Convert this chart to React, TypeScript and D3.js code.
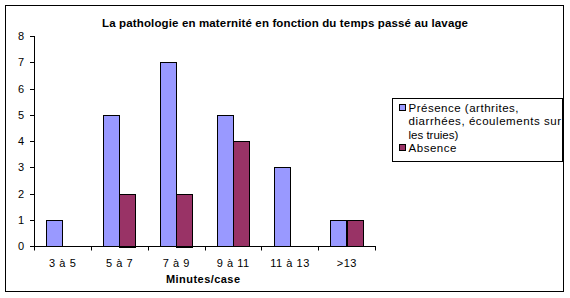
import React from "react";
import * as d3 from "d3";

const categories = ["3 à 5", "5 à 7", "7 à 9", "9 à 11", "11 à 13", ">13"];
const presence = [1, 5, 7, 5, 3, 1];
const absence = [0, 2, 2, 4, 0, 1];
const yTicks = [0, 1, 2, 3, 4, 5, 6, 7, 8];
const seriesNames = ["Présence (arthrites, diarrhées, écoulements sur les truies)", "Absence"];
const legendLines = [["Présence (arthrites,", "diarrhées, écoulements sur", "les truies)"], ["Absence"]];
const colors = ["#9999FF", "#993366"];
const title = "La pathologie en maternité en fonction du temps passé au lavage";
const xTitle = "Minutes/case";

// rendered widths (px) of the text runs, to match the reference's GDI spacing (0 = natural)
const legendWidths = [[110, 152.5, 0], [48]];

export default function App() {
  const W = 570, H = 298;
  const left = 34, right = 375, top = 36, bottom = 246;
  const font = "'Liberation Sans', Arial, sans-serif";
  const x = d3.scaleBand<string>().domain(categories).range([left, right]).paddingInner(0).paddingOuter(0);
  const y = d3.scaleLinear().domain([0, 8]).range([bottom, top]);
  const bw = x.bandwidth();
  const barW = bw / 3.5;
  const off = barW * 0.75;
  const series = [presence, absence];

  return (
    <div style={{ position: "absolute", left: 0, top: 0 }}>
      <svg width={W} height={H} style={{ display: "block" }}>
        <rect x={0} y={0} width={W} height={H} fill="#fff" />
        <rect x={5.5} y={5.5} width={558} height={286} fill="#fff" stroke="#000" strokeWidth={1} />
        <text x={102} y={27} textLength={366} lengthAdjust="spacing" fontFamily={font} fontWeight="bold" fontSize={11.5}>{title}</text>
        {series.map((vals, si) =>
          vals.map((v, i) =>
            v > 0 ? (
              <rect key={`${si}-${i}`}
                x={Math.round(x(categories[i])! + off + si * barW) + 0.5}
                y={Math.round(y(v)) + 0.5}
                width={Math.round(barW)}
                height={Math.round(y(0) - y(v))}
                fill={colors[si]} stroke="#000" strokeWidth={1} />
            ) : null
          )
        )}
        {/* y axis */}
        <line x1={left + 0.5} x2={left + 0.5} y1={top} y2={bottom + 0.5} stroke="#000" />
        {yTicks.map((t) => (
          <g key={t}>
            <line x1={left - 4} x2={left + 0.5} y1={Math.round(y(t)) + 0.5} y2={Math.round(y(t)) + 0.5} stroke="#000" />
            <text x={24} y={y(t) + 4} textAnchor="end" fontFamily={font} fontSize={11}>{t}</text>
          </g>
        ))}
        {/* x axis */}
        <line x1={left} x2={right + 0.5} y1={bottom + 0.5} y2={bottom + 0.5} stroke="#000" />
        {[...categories.map((c) => x(c)!), right].map((p, i) => (
          <line key={i} x1={Math.round(p) + 0.5} x2={Math.round(p) + 0.5} y1={bottom} y2={bottom + 4.5} stroke="#000" />
        ))}
        {categories.map((c) => (
          <text key={c} x={x(c)! + bw / 2 + 0.3} y={267} textAnchor="middle" fontFamily={font} fontSize={11} letterSpacing={0.55}>{c}</text>
        ))}
        <text x={166} y={283} textLength={74} lengthAdjust="spacing" fontFamily={font} fontWeight="bold" fontSize={11}>{xTitle}</text>
        {/* legend */}
        <rect x={392.5} y={98.5} width={170} height={63} fill="#fff" stroke="#000" />
        {legendLines.map((lines, si) => {
          const baseY = si === 0 ? 111.5 : 152;
          return (
            <g key={si}>
              <title>{seriesNames[si]}</title>
              <rect x={399.5} y={Math.round(baseY - 8) + 0.5} width={6} height={6} fill={colors[si]} stroke="#000" />
              {lines.map((l, li) => {
                const w = legendWidths[si][li];
                return (
                  <text key={li} x={408.5} y={baseY + li * 13.7}
                    {...(w > 0 ? { textLength: w, lengthAdjust: "spacing" } : {})}
                    fontFamily={font} fontSize={11.5}>{l}</text>
                );
              })}
            </g>
          );
        })}
      </svg>
    </div>
  );
}
